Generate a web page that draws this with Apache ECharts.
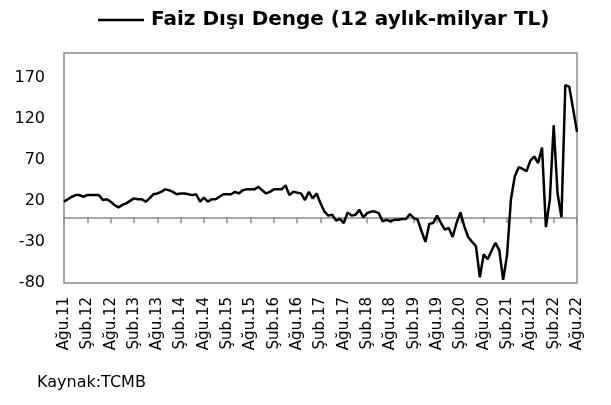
<!DOCTYPE html>
<html>
<head>
<meta charset="utf-8">
<script src="https://cdn.jsdelivr.net/npm/echarts@6/dist/echarts.min.js"></script>
<style>
html, body { margin: 0; padding: 0; background: #fff; }
#main { width: 611px; height: 405px; }
</style>
</head>
<body>
<div id="main"></div>
<script>
// aylar ve etiketler
var aylar = ['Oca', 'Şub', 'Mar', 'Nis', 'May', 'Haz', 'Tem', 'Ağu', 'Eyl', 'Eki', 'Kas', 'Ara'];
var baslangicYil = 2011;
var baslangicAy = 7; // Ağu
var aySayisi = 133;

// Faiz dışı denge, 12 aylık, milyar TL (Ağu.11 - Ağu.22)
var faizDisiDenge = [
    19, 22, 25, 27, 27, 25, 27, 27, 27, 27, 21, 22,
    19, 15, 12, 15, 17, 20, 23, 22, 22, 19, 23, 28,
    29, 31, 34, 33, 31, 28, 29, 29, 28, 27, 28, 19,
    24, 19, 22, 22, 25, 28, 28, 28, 31, 29, 33, 34,
    34, 34, 37, 33, 29, 31, 34, 34, 34, 39, 27, 31,
    30, 29, 21, 31, 23, 29, 17, 7, 2, 3, -4, -2,
    -7, 6, 2, 3, 9, 0, 5, 7, 7, 5, -5, -3,
    -5, -3, -3, -2, -2, 4, -1, -3, -17, -30, -8, -7,
    2, -7, -15, -13, -24, -7, 6, -11, -24, -30, -35, -73,
    -45, -51, -41, -31, -40, -76, -46, 22, 50, 61, 59, 56,
    69, 74, 66, 85, -12, 21, 112, 29, 0, 161, 159, 132,
    104
];

var yEksen = { min: -80, max: 200, aralik: 50 };

function etiketUret() {
    var liste = [];
    for (var i = 0; i < aySayisi; i++) {
        var m = baslangicAy + i;
        var yil = baslangicYil + Math.floor(m / 12);
        liste.push(aylar[m % 12] + '.' + String(yil).substr(2));
    }
    return liste;
}
var kategoriler = etiketUret();

var myChart = echarts.init(document.getElementById('main'));
var font = '"DejaVu Sans", "Noto Sans", sans-serif';

myChart.setOption({
    animation: false,
    backgroundColor: '#fff',
    textStyle: { fontFamily: font },
    title: {
        text: 'Kaynak:TCMB',
        left: 37,
        top: 375,
        padding: 0,
        textStyle: { fontSize: 16, fontWeight: 'normal', color: '#000', fontFamily: font }
    },
    legend: {
        left: 93,
        top: 5,
        icon: 'rect',
        itemWidth: 46,
        itemHeight: 2.5,
        textStyle: { fontSize: 20, fontWeight: 'bold', color: '#000', fontFamily: font, padding: [0, 0, 0, 2] },
        data: ['Faiz Dışı Denge (12 aylık-milyar TL)']
    },
    grid: {
        left: 64,
        top: 53,
        width: 513,
        height: 230,
        show: true,
        borderColor: '#8c8c8c',
        borderWidth: 1.5,
        containLabel: false
    },
    xAxis: [{
        type: 'category',
        data: kategoriler,
        boundaryGap: false,
        position: 'bottom',
        axisLine: { show: false, onZero: false },
        axisTick: { show: false },
        axisLabel: {
            interval: 5,
            rotate: 90,
            margin: 14,
            fontSize: 15,
            color: '#000',
            fontFamily: font
        },
        splitLine: { show: false }
    }, {
        type: 'category',
        data: kategoriler,
        boundaryGap: false,
        position: 'top',
        axisLine: { show: true, onZero: true, lineStyle: { color: '#8c8c8c', width: 1.5 } },
        axisTick: { show: true, inside: true, interval: 5, length: 6, lineStyle: { color: '#8c8c8c', width: 1.5 } },
        axisLabel: { show: false },
        splitLine: { show: false }
    }],
    yAxis: {
        type: 'value',
        min: yEksen.min,
        max: yEksen.max,
        interval: yEksen.aralik,
        axisLine: { show: false },
        axisTick: { show: false },
        splitLine: { show: false },
        axisLabel: {
            showMaxLabel: false,
            margin: 19,
            fontSize: 16,
            color: '#000',
            fontFamily: font
        }
    },
    series: [{
        name: 'Faiz Dışı Denge (12 aylık-milyar TL)',
        type: 'line',
        data: faizDisiDenge,
        showSymbol: false,
        symbol: 'none',
        color: '#000',
        lineStyle: { color: '#000', width: 2.5 },
        z: 3
    }]
});
</script>
</body>
</html>
